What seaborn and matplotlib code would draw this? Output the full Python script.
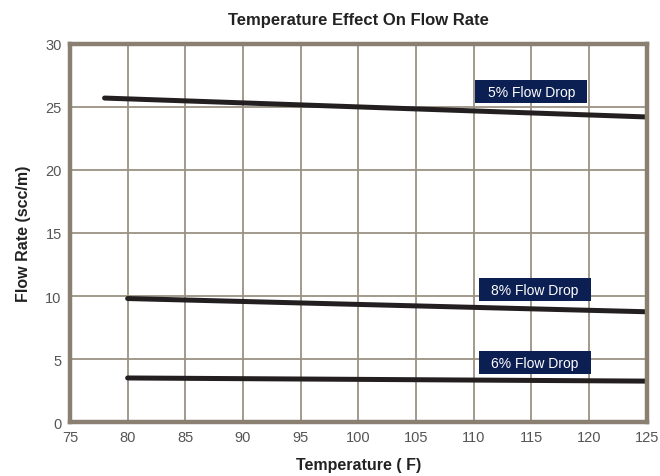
import matplotlib
matplotlib.use("Agg")
import matplotlib.pyplot as plt
from matplotlib.patches import Rectangle
import seaborn as sns
import pandas as pd

temps_5 = [78, 125]
flow_5 = [25.7, 24.2]
temps_8 = [80, 125]
flow_8 = [9.8, 8.75]
temps_6 = [80, 125]
flow_6 = [3.5, 3.25]
labels = ["5% Flow Drop", "8% Flow Drop", "6% Flow Drop"]
label_x = [115.0, 115.3, 115.3]
label_y = [26.2, 10.5, 4.7]
x_ticks = list(range(75, 126, 5))
y_ticks = list(range(0, 31, 5))

df = pd.concat([
    pd.DataFrame({"Temperature": temps_5, "Flow": flow_5, "Series": labels[0]}),
    pd.DataFrame({"Temperature": temps_8, "Flow": flow_8, "Series": labels[1]}),
    pd.DataFrame({"Temperature": temps_6, "Flow": flow_6, "Series": labels[2]}),
])

sns.set_style("white")
plt.rcParams['font.family'] = ['Liberation Sans', 'DejaVu Sans']

fig = plt.figure(figsize=(6.6, 4.77), dpi=100)
ax = fig.add_axes([0.106, 0.113, 0.874, 0.793])

grid_c = "#9b9283"
spine_c = "#8a7f70"
ax.set_xlim(75, 125)
ax.set_ylim(0, 30)
ax.set_xticks(x_ticks)
ax.set_yticks(y_ticks)
ax.grid(True, color=grid_c, linewidth=1.3)
ax.set_axisbelow(True)

sns.lineplot(data=df, x="Temperature", y="Flow", units="Series", estimator=None,
             color="#231f20", linewidth=3.6, ax=ax, legend=False)

for s in ax.spines.values():
    s.set_color(spine_c)
    s.set_linewidth(3.2)
    s.set_visible(True)

ax.tick_params(axis='x', length=0, pad=6, labelsize=10.5, labelcolor="#555555")
ax.tick_params(axis='y', length=4, width=1, color="#333333", pad=2, labelsize=10.5, labelcolor="#555555")

box_w = 9.7
box_h = 1.8
for t, x, y in zip(labels, label_x, label_y):
    ax.add_patch(Rectangle((x - box_w / 2, y - box_h / 2), box_w, box_h,
                           facecolor="#0b1f52", edgecolor="none", zorder=4))
    ax.text(x, y, t, ha="center", va="center", color="white", fontsize=10, zorder=5)

ax.set_xlabel("Temperature ( F)", fontsize=11.5, fontweight="bold", color="#222222", labelpad=9)
ax.set_ylabel("Flow Rate (scc/m)", fontsize=11.5, fontweight="bold", color="#222222", labelpad=10)
ax.set_title("Temperature Effect On Flow Rate", fontsize=12, fontweight="bold", color="#222222", pad=14)

fig.savefig("out.png", dpi=100)
